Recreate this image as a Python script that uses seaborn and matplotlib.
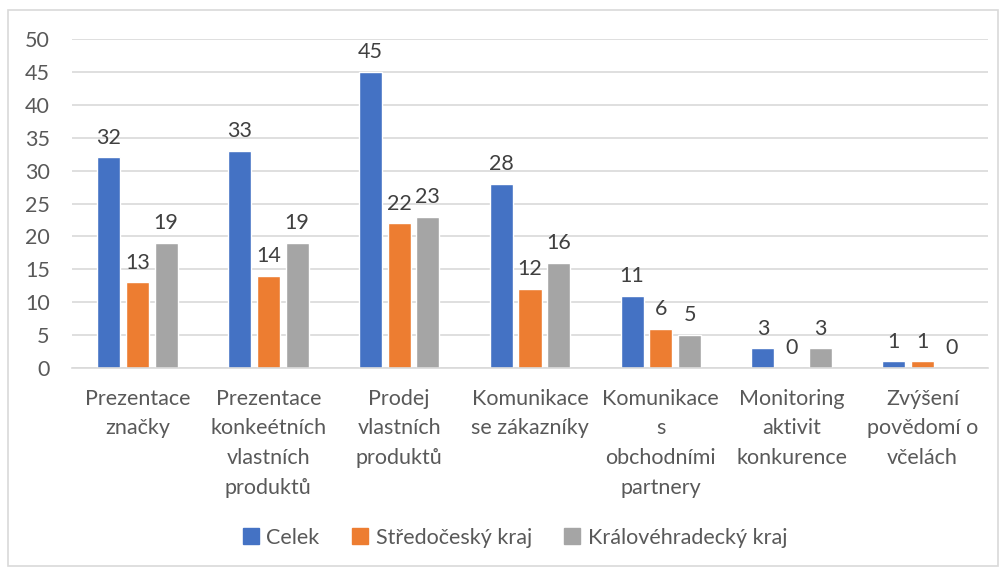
import pandas as pd
import matplotlib.pyplot as plt
import seaborn as sns
from matplotlib.patches import Rectangle

categories = ['Prezentace\nznačky', 'Prezentace\nkonkeétních\nvlastních\nproduktů',
              'Prodej\nvlastních\nproduktů', 'Komunikace\nse zákazníky',
              'Komunikace\ns\nobchodními\npartnery', 'Monitoring\naktivit\nkonkurence',
              'Zvýšení\npovědomí o\nvčelách']
series = ['Celek', 'Středočeský kraj', 'Královéhradecký kraj']
celek = [32, 33, 45, 28, 11, 3, 1]
stredocesky = [13, 14, 22, 12, 6, 0, 1]
kralovehradecky = [19, 19, 23, 16, 5, 3, 0]
colors = ['#4472C4', '#ED7D31', '#A5A5A5']

df = pd.DataFrame({'kategorie': categories * 3,
                   'oblast': [s for s in series for _ in categories],
                   'pocet': celek + stredocesky + kralovehradecky})

sns.set_style('white')
plt.rcParams['font.family'] = ['Lato', 'DejaVu Sans']
text_color = '#595959'
fs = 15.5

fig = plt.figure(figsize=(10.06, 5.72), dpi=100)
ax = fig.add_axes([72 / 1006, 1 - 368 / 572, (988 - 72) / 1006, (368 - 39) / 572])

sns.barplot(data=df, x='kategorie', y='pocet', hue='oblast', palette=colors,
            width=0.66, gap=0.2, ax=ax, legend=False, saturation=1)

for c in ax.containers:
    ax.bar_label(c, padding=7, fontsize=fs, color='#404040')

ax.set_ylim(0, 50)
ax.set_xlim(-0.5, 6.5)
ax.set_yticks(range(0, 51, 5))
ax.yaxis.grid(True, color='#d9d9d9', linewidth=1.2)
ax.set_axisbelow(True)
for s in ['top', 'right', 'left']:
    ax.spines[s].set_visible(False)
ax.spines['bottom'].set_color('#d9d9d9')
ax.spines['bottom'].set_linewidth(1.2)
ax.tick_params(axis='both', length=0, labelsize=fs, colors=text_color)
ax.tick_params(axis='y', pad=16)
ax.tick_params(axis='x', pad=15)
for lbl in ax.get_xticklabels():
    lbl.set_linespacing(1.6)
ax.set_xlabel('')
ax.set_ylabel('')

handles = [Rectangle((0, 0), 1, 1, color=c) for c in colors]
fig.legend(handles, series, loc='center', bbox_to_anchor=(0.512, 0.06), ncol=3,
           frameon=False, fontsize=fs, handlelength=0.75, handleheight=0.75,
           handletextpad=0.35, columnspacing=1.5, labelcolor=text_color)

fig.patches.append(Rectangle((8 / 1006, 6 / 572), 990 / 1006, 556 / 572,
                             transform=fig.transFigure, fill=False,
                             edgecolor='#d9d9d9', linewidth=1.2))

fig.savefig('out.png', dpi=100)
